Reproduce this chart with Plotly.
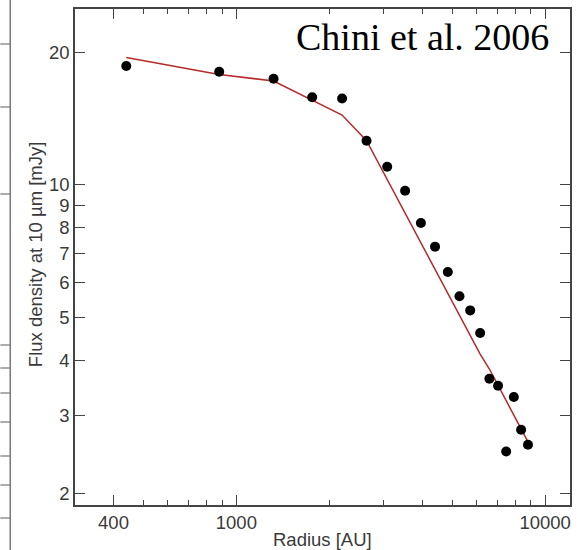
import plotly.graph_objects as go

# ---- data ----
radius_au = [440, 880, 1320, 1760, 2200, 2640, 3080, 3520, 3960, 4400,
             4840, 5280, 5720, 6160, 6600, 7040, 7480, 7920, 8360, 8800]
flux_obs = [18.6, 18.05, 17.4, 15.8, 15.7, 12.6, 11.0, 9.7, 8.2, 7.25,
            6.35, 5.6, 5.2, 4.62, 3.64, 3.51, 2.49, 3.31, 2.79, 2.58]
flux_model = [19.45, 17.8, 17.2, 15.6, 14.4, 12.6, 10.3, 8.63, 7.41, 6.45,
              5.72, 5.09, 4.58, 4.14, 3.83, 3.52, 3.25, 3.01, 2.81, 2.62]

x_major = [400, 1000, 10000]
x_minor = [500, 600, 700, 800, 900, 2000, 3000, 4000, 5000, 6000, 7000, 8000, 9000]
y_ticks = [2, 3, 4, 5, 6, 7, 8, 9, 10, 20]

W, H = 579, 550
ML, MR, MT, MB = 75, 7, 9, 45
PW, PH = W - ML - MR, H - MT - MB

def px_x(p):
    return (p - ML) / PW

def px_y(p):
    return (H - MB - p) / PH

axis_col = "#444444"
text_col = "#3a3a3a"
font_fam = "Liberation Sans, Arial, sans-serif"

fig = go.Figure()
fig.add_trace(go.Scatter(x=radius_au, y=flux_model, mode="lines",
                         line=dict(color="#b52a2a", width=1.5), showlegend=False))
fig.add_trace(go.Scatter(x=radius_au, y=flux_obs, mode="markers",
                         marker=dict(color="black", size=10), showlegend=False))

axis_common = dict(showline=True, linecolor=axis_col, linewidth=1.5, mirror="ticks",
                   ticks="inside", ticklen=10, tickwidth=1.2, tickcolor=axis_col,
                   showgrid=False, zeroline=False,
                   tickfont=dict(family=font_fam, size=18.5, color=text_col))

fig.update_xaxes(type="log", range=[2.4774, 4.0806], tickmode="array",
                 tickvals=x_major, ticktext=[str(v) for v in x_major],
                 minor=dict(tickmode="array", tickvals=x_minor, ticks="inside",
                            ticklen=5, tickcolor=axis_col, tickwidth=1.2, showgrid=False),
                 **axis_common)
fig.update_yaxes(type="log", range=[0.2752, 1.3986], tickmode="array",
                 tickvals=y_ticks, ticktext=[str(v) for v in y_ticks],
                 **axis_common)

annotations = [
    dict(text="Radius [AU]", x=px_x(323.5), y=px_y(539), xref="paper", yref="paper",
         xanchor="center", yanchor="middle", showarrow=False,
         font=dict(family=font_fam, size=18.5, color=text_col)),
    dict(text="Flux density at 10 \u00b5m [mJy]", x=px_x(36), y=px_y(254), xref="paper",
         yref="paper", xanchor="center", yanchor="middle", textangle=-90, showarrow=False,
         font=dict(family=font_fam, size=18.5, color=text_col)),
    dict(text="Chini et al. 2006", x=px_x(553), y=px_y(37), xref="paper", yref="paper",
         xanchor="right", yanchor="middle", showarrow=False,
         font=dict(family="Liberation Serif, Times New Roman, serif", size=38, color="black")),
]

# partial frame of a neighbouring panel at the far left edge
shapes = [dict(type="line", xref="paper", yref="paper", x0=px_x(10), x1=px_x(10),
               y0=px_y(550), y1=px_y(0), line=dict(color="#777777", width=1.5))]
for ty in [44, 107, 194, 345, 368, 393, 422, 456, 485, 518]:
    shapes.append(dict(type="line", xref="paper", yref="paper", x0=px_x(0), x1=px_x(10),
                       y0=px_y(ty), y1=px_y(ty), line=dict(color="#777777", width=1.2)))

fig.update_layout(width=W, height=H, margin=dict(l=ML, r=MR, t=MT, b=MB, pad=0),
                  plot_bgcolor="white", paper_bgcolor="white",
                  annotations=annotations, shapes=shapes, showlegend=False)

fig.write_html("out.html")
